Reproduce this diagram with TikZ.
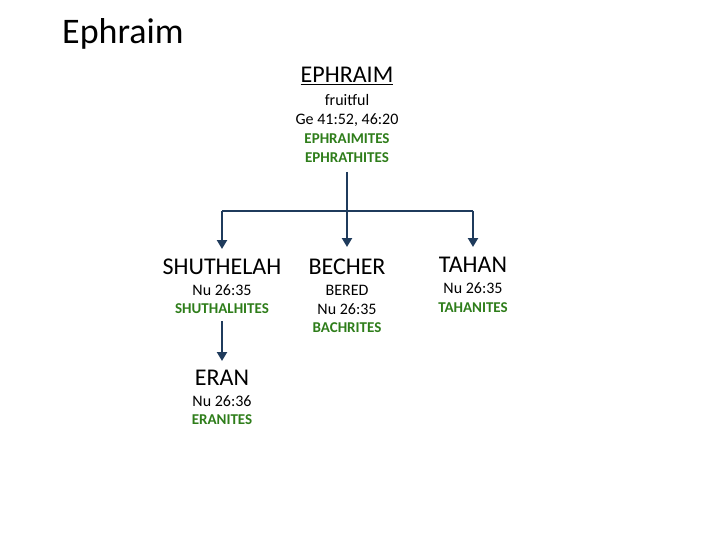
\documentclass[tikz,border=0pt]{standalone}
\usepackage{fontspec}
\setmainfont{Carlito}
\usetikzlibrary{arrows.meta}
\definecolor{ln}{HTML}{1F3B5C}
\definecolor{gr}{HTML}{2E7D1A}
\tikzset{
 big/.style={font=\fontsize{24}{26}\selectfont, inner sep=0pt, anchor=center},
 sm/.style={font=\fontsize{16}{17}\selectfont, inner sep=0pt, anchor=center},
 grn/.style={sm, font=\fontsize{15}{17}\selectfont\bfseries, text=gr},
 conn/.style={draw=ln, line width=2.4pt},
 arr/.style={conn, -{Triangle[length=9pt,width=10pt]}}
}
\begin{document}
\begin{tikzpicture}[x=1pt,y=-1pt]
\useasboundingbox (0,0) rectangle (720,540);
\node[anchor=west, inner sep=0pt, font=\fontsize{36}{38}\selectfont] (title) at (62,34) {Ephraim};
\node[big] (eph) at (347,76) {\underline{EPHRAIM}};
\node[sm] (e1) at (347,100) {fruitful};
\node[sm] (e2) at (347,120) {Ge 41:52, 46:20};
\node[grn] (e3) at (347,139) {EPHRAIMITES};
\node[grn] (e4) at (347,158) {EPHRATHITES};
\node[big] (shu) at (222,267) {SHUTHELAH};
\node[sm] (s1) at (222,290) {Nu 26:35};
\node[grn] (s2) at (222,309) {SHUTHALHITES};
\node[big] (bec) at (347,267) {BECHER};
\node[sm] (b1) at (347,290) {BERED};
\node[sm] (b2) at (347,309) {Nu 26:35};
\node[grn] (b3) at (347,328) {BACHRITES};
\node[big] (tah) at (473,265) {TAHAN};
\node[sm] (t1) at (473,288) {Nu 26:35};
\node[grn] (t2) at (473,308) {TAHANITES};
\node[big] (era) at (222,378) {ERAN};
\node[sm] (r1) at (222,401) {Nu 26:36};
\node[grn] (r2) at (222,420) {ERANITES};
\coordinate (top) at (347,172);
\coordinate (jl) at (222,211);
\coordinate (jr) at (473,211);
\coordinate (jm) at (347,211);
\coordinate (bt) at (347,247);
\coordinate (st) at (222,249);
\coordinate (tt) at (473,247);
\coordinate (sb) at (222,321);
\coordinate (et) at (222,361);
\draw[conn] (jl) -- (jr);
\draw[arr] (top) -- (bt);
\draw[arr] (jl) -- (st);
\draw[arr] (jr) -- (tt);
\draw[arr] (sb) -- (et);
\end{tikzpicture}
\end{document}
